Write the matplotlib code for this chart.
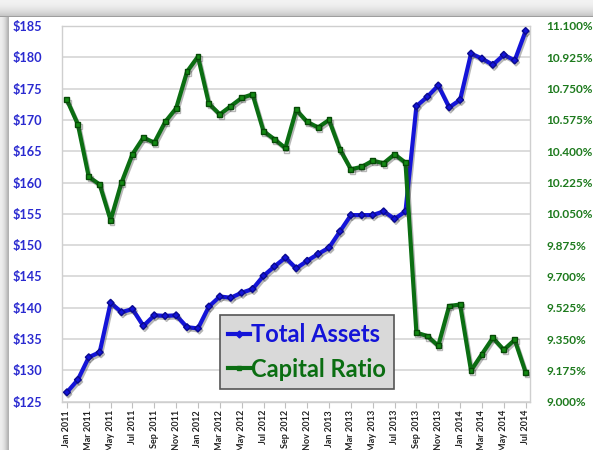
import numpy as np
import matplotlib
matplotlib.use("Agg")
import matplotlib.pyplot as plt
import matplotlib.patheffects as pe
from matplotlib.lines import Line2D

# ---------------- data ----------------
total_assets = [126.5, 128.5, 132.1, 132.9, 140.8, 139.3, 139.8, 137.1, 138.8, 138.7,
                138.8, 136.9, 136.7, 140.2, 141.8, 141.6, 142.4, 143.0, 145.1, 146.6,
                148.0, 146.3, 147.5, 148.6, 149.6, 152.2, 154.8, 154.8, 154.8, 155.4,
                154.2, 155.4, 172.2, 173.7, 175.5, 172.0, 173.2, 180.6, 179.8, 178.8,
                180.4, 179.5, 184.2]
capital_ratio = [10.687, 10.551, 10.257, 10.214, 10.015, 10.225, 10.383, 10.476, 10.448, 10.564,
                 10.640, 10.845, 10.929, 10.666, 10.606, 10.652, 10.698, 10.718, 10.512, 10.467,
                 10.418, 10.631, 10.564, 10.533, 10.575, 10.410, 10.299, 10.313, 10.347, 10.333,
                 10.383, 10.336, 9.386, 9.367, 9.313, 9.535, 9.543, 9.174, 9.266, 9.357,
                 9.290, 9.346, 9.164]
tick_labels = ["Jan 2011", "Mar 2011", "May 2011", "Jul 2011", "Sep 2011", "Nov 2011",
               "Jan 2012", "Mar 2012", "May 2012", "Jul 2012", "Sep 2012", "Nov 2012",
               "Jan 2013", "Mar 2013", "May 2013", "Jul 2013", "Sep 2013", "Nov 2013",
               "Jan 2014", "Mar 2014", "May 2014", "Jul 2014"]
left_ticks = [125, 130, 135, 140, 145, 150, 155, 160, 165, 170, 175, 180, 185]
right_ticks = [9.000, 9.175, 9.350, 9.525, 9.700, 9.875, 10.050, 10.225, 10.400,
               10.575, 10.750, 10.925, 11.100]

BLUE = "#1414d8"
GREEN = "#0b6e12"
LBLUE = "#2a2ad0"
LGREEN = "#1d7a1d"
FONT = "Lato"

W, H = 593, 450
fig = plt.figure(figsize=(W / 100, H / 100), dpi=100)
fig.patch.set_facecolor("white")

# background frame with shadow (decorative)
bg = np.ones((H, W, 3))
for r in range(16):
    v = 0.95 - 0.17 * (r / 15) ** 2
    bg[r, :, :] = v
bg[16, :, :] = 0.62
for c in range(8):
    v = 0.93 - 0.2 * (c / 7) ** 2
    bg[17:, c, :] = np.minimum(bg[17:, c, :], v)
bg[17:, 8, :] = 0.7
bax = fig.add_axes([0, 0, 1, 1], zorder=-10)
bax.imshow(bg, aspect="auto", interpolation="bilinear")
bax.axis("off")

L, R, T, B = 62, 530, 26, 401.7
ax = fig.add_axes([L / W, 1 - B / H, (R - L) / W, (B - T) / H])
ax.set_facecolor("white")
x = np.arange(len(total_assets))
ax.set_xlim(-0.45, len(total_assets) - 1 + 0.4)
ax.set_ylim(125, 185)
ax.set_yticks(left_ticks)
ax.set_yticklabels([f"${v}" for v in left_ticks], color=LBLUE, fontsize=9.2,
                   fontweight="bold", family=FONT)
ax.tick_params(axis="y", length=0, pad=14)
ax.grid(axis="y", color="#d9d9d9", linewidth=1.3)
ax.set_axisbelow(True)
for s in ax.spines.values():
    s.set_color("#cfcfcf")
    s.set_linewidth(1.0)

ax.set_xticks(x[::2])
ax.set_xticklabels(tick_labels, rotation=90, fontsize=6.5, family=FONT,
                   fontweight="bold", color="#222222")
ax.tick_params(axis="x", length=4, color="#bfbfbf", pad=2)

ax2 = ax.twinx()
ax2.set_ylim(9.0, 11.1)
ax2.set_yticks(right_ticks)
ax2.set_yticklabels([f"{v:.3f}%" for v in right_ticks], color=LGREEN, fontsize=8.5,
                    fontweight="bold", family=FONT)
ax2.tick_params(axis="y", length=0, pad=12)
for s in ax2.spines.values():
    s.set_visible(False)

shadow = [pe.SimpleLineShadow(offset=(1, -1.5), alpha=0.35, shadow_color="#333333"), pe.Normal()]
ax.plot(x, total_assets, color=BLUE, linewidth=3.0, marker="D", markersize=3.5,
        markerfacecolor=BLUE, markeredgecolor="#0a0a90", zorder=5, path_effects=shadow,
        solid_joinstyle="round")
ax2.plot(x, capital_ratio, color=GREEN, linewidth=3.0, marker="s", markersize=3.5,
         markerfacecolor="#148a14", markeredgecolor="#064a06", zorder=5, path_effects=shadow,
         solid_joinstyle="round")

handles = [Line2D([], [], color=BLUE, linewidth=3, marker="D", markersize=3.5),
           Line2D([], [], color=GREEN, linewidth=3, marker="s", markersize=3.5)]
leg = fig.legend(handles, ["Total Assets", "Capital Ratio"], loc="lower left",
                 bbox_to_anchor=(220 / W, 1 - 389 / H), frameon=True, fancybox=False,
                 handlelength=0.9, handletextpad=0.05, borderpad=0.35, labelspacing=0.5,
                 prop={"family": FONT, "weight": "bold", "size": 17}, borderaxespad=0)
leg.get_frame().set_facecolor("#d9d9d9")
leg.get_frame().set_edgecolor("#555555")
leg.get_frame().set_linewidth(1.2)
leg.get_frame().set_alpha(1)
leg.set_zorder(20)
for t, c in zip(leg.get_texts(), [BLUE, GREEN]):
    t.set_color(c)

fig.savefig("out.png", dpi=100)
